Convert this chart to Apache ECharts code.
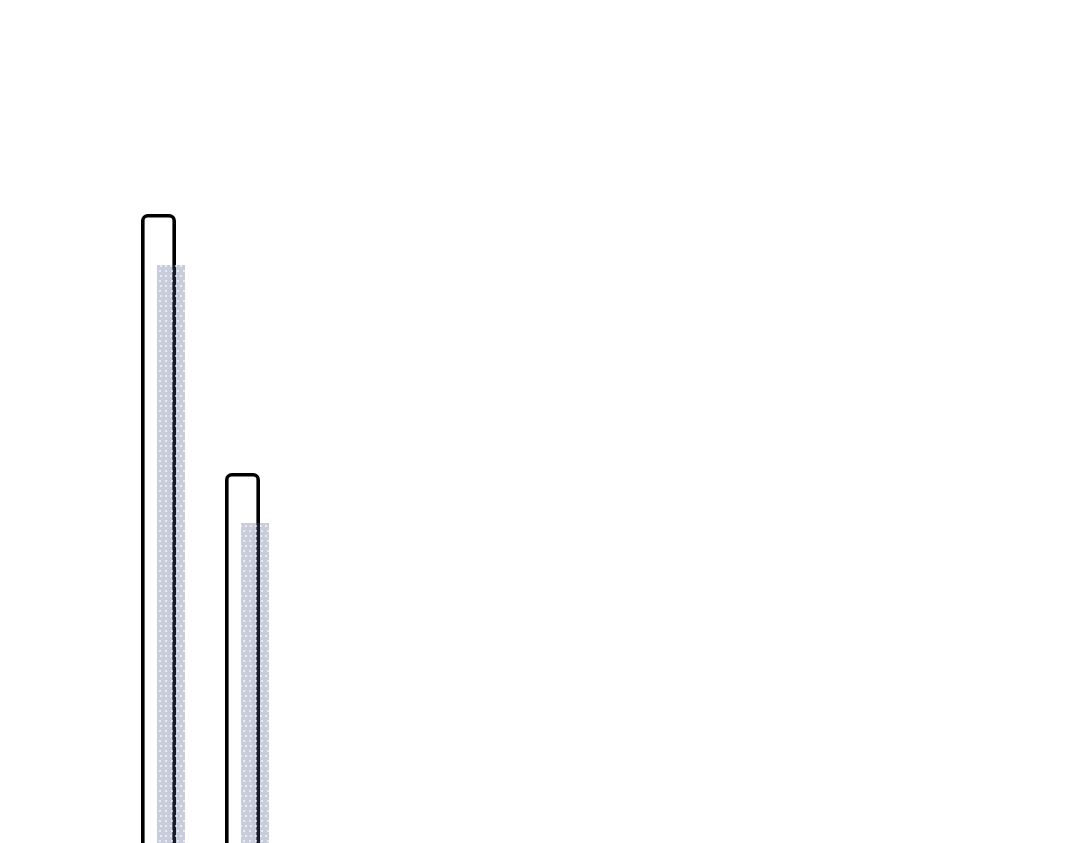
<!DOCTYPE html>
<html>
<head>
<meta charset="UTF-8">
<title>Bars</title>
<script src="https://cdn.jsdelivr.net/npm/echarts@6/dist/echarts.min.js"></script>
<style>
  html, body { margin: 0; padding: 0; background: #fff; overflow: hidden; }
</style>
</head>
<body>
    <!-- container is taller than the window, the lower part is cut off -->
    <div id="main" style="width: 1080px;height:1300px;"></div>

    <script type="text/javascript">
    var categories = ['A', 'B', 'C', 'D', 'E', 'F', 'G', 'H', 'I', 'J', 'K'];
    var outlineData = [98.6, 72.7, null, null, null, null, null, null, null, null, null];
    var fillData = [93.5, 67.7, null, null, null, null, null, null, null, null, null];

    var myChart = echarts.init(document.getElementById('main'));

    var option = {
        animation: false,
        grid: { left: 121, top: 200, width: 84 * categories.length, height: 1000 },
        xAxis: {
            type: 'category',
            data: categories,
            show: false
        },
        yAxis: {
            type: 'value',
            min: 0,
            max: 100,
            show: false
        },
        series: [{
            name: 'outline',
            type: 'bar',
            data: outlineData,
            barWidth: 35,
            barGap: '-54.29%',
            itemStyle: {
                color: 'rgba(255,255,255,0)',
                borderColor: '#000',
                borderWidth: 3.6,
                borderRadius: [5, 5, 0, 0]
            }
        }, {
            name: 'fill',
            type: 'bar',
            data: fillData,
            barWidth: 28,
            itemStyle: {
                color: 'rgba(74,90,138,0.3)',
                decal: {
                    symbol: 'rect',
                    symbolSize: 1,
                    color: 'rgba(255,255,255,0.6)',
                    dashArrayX: [[2, 3], [0, 2.5, 2, 0.5]],
                    dashArrayY: [2, 2.5],
                    rotation: 0
                }
            }
        }]
    };
    myChart.setOption(option);
    </script>
</body>
</html>
